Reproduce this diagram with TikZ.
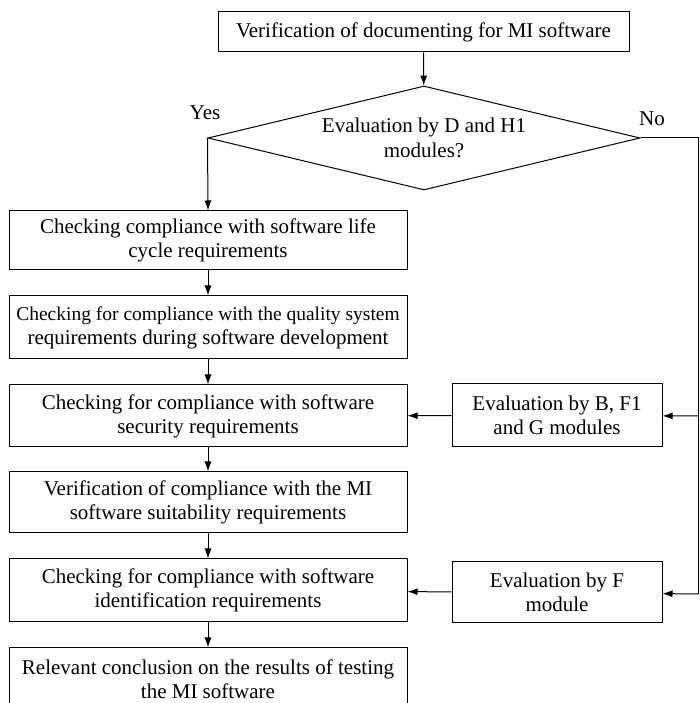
\documentclass[tikz,border=0pt]{standalone}
\usepackage{fontspec}
\setmainfont{Liberation Serif}
\usetikzlibrary{arrows.meta,shapes.geometric}
\tikzstyle{block}=[rectangle,draw,line width=1pt,align=center,inner sep=0pt,font=\fontsize{21}{24}\selectfont]
\tikzstyle{decision}=[diamond,draw,line width=1pt,align=center,aspect=4.15,inner sep=0pt,minimum width=432pt,minimum height=104pt,font=\fontsize{21}{25}\selectfont]
\tikzstyle{edge} = [draw,line width=1pt,-{Latex[length=10pt,width=7pt]}]
\tikzstyle{plainline} = [draw,line width=1pt]
\tikzstyle{answer} = [font=\fontsize{21}{25}\selectfont]

\begin{document}
\begin{tikzpicture}[x=1pt,y=1pt]
\useasboundingbox (0,0) rectangle (699,703);

% Start and decision
\node[block,minimum width=411pt,minimum height=40pt] (docs) at (423.5,671) {Verification of documenting for MI software};
\node[decision] (dec) at (424,565) {Evaluation by D and H1\\modules?};
\node[answer] (yes) at (205,590) {Yes};
\node[answer] (no) at (652,584) {No};
\path[edge] (docs) -- (dec);

% Main chain
    \foreach \pos/\name/\h/\txt in {{(208,462.5)/life/59/{Checking compliance with software life\\cycle requirements}},
        {(208,375.5)/quality/63/{\fontsize{19.5}{23.3}\selectfont Checking for compliance with the quality system\\requirements during software development}},
        {(208,287)/security/62/{Checking for compliance with software\\security requirements}},
        {(208,200.5)/suit/61/{Verification of compliance with the MI\\software suitability requirements}},
        {(208,112.5)/ident/63/{Checking for compliance with software\\identification requirements}},
        {(208,23.5)/concl/63/{Relevant conclusion on the results of testing\\the MI software}}}
        \node[block,minimum width=398pt,minimum height=\h pt] (\name) at \pos {\txt};

    \path[edge] (dec.west) -- (life.north);
    \foreach \source/ \dest in {life/quality, quality/security, security/suit, suit/ident, ident/concl}
        \path[edge] (\source) -- (\dest);

% Other modules
\node[block,minimum width=210pt,minimum height=63pt] (bfg) at (557,287.5) {Evaluation by B, F1\\and G modules};
\node[block,minimum width=210pt,minimum height=61pt] (fmod) at (557,110.5) {Evaluation by F\\module};

\coordinate (corner) at (698.5,565);
\coordinate (bend1) at (698.5,287);
\coordinate (bend2) at (698.5,109);
\path[plainline] (dec.east) -- (corner) -- (bend2);
\path[edge] (bend1) -- (bfg);
\path[edge] (bend2) -- (fmod);
\path[edge] (bfg) -- (security);
\path[edge] (fmod) -- (ident);

\end{tikzpicture}
\end{document}
